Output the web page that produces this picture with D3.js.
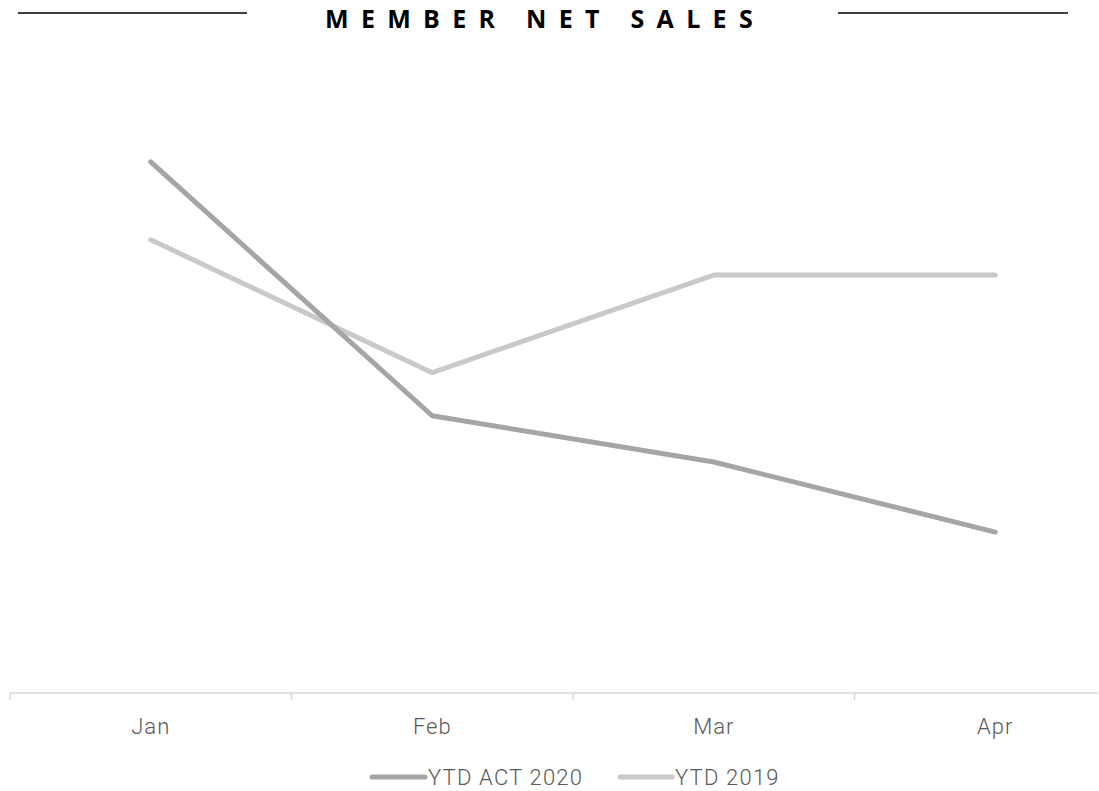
<!DOCTYPE html>
<html><head><meta charset="utf-8">
<script src="https://cdn.jsdelivr.net/npm/d3@7"></script>
<style>body{margin:0;background:#fff;} svg{display:block;}</style>
</head><body>
<svg id="c" width="1099" height="791"></svg>
<script>
const categories = ["Jan","Feb","Mar","Apr"];
const seriesNames = ["YTD ACT 2020","YTD 2019"];
const act2020 = [102.3, 53.4, 44.5, 31.0];
const ytd2019 = [87.3, 61.7, 80.5, 80.5];
const colors = ["#a5a5a5","#c9c9c9"];

const svg = d3.select("#c");
const W = 1099, H = 791;
const m = {left:10, top:70, bottom:98};
const x = d3.scaleBand().domain(categories).range([m.left, 1136]);
const y = d3.scaleLinear().domain([0,120]).range([H - m.bottom, m.top]);

// title
svg.append("text").attr("x", 545).attr("y", 27.5).attr("text-anchor","middle")
  .attr("font-family","Open Sans").attr("font-weight","bold").attr("font-size",25)
  .attr("letter-spacing","12.3px").attr("fill","#000").text("MEMBER NET SALES");
svg.append("line").attr("x1",18).attr("x2",247).attr("y1",13).attr("y2",13).attr("stroke","#000").attr("stroke-width",1.3);
svg.append("line").attr("x1",838).attr("x2",1068).attr("y1",13).attr("y2",13).attr("stroke","#000").attr("stroke-width",1.3);

// axis
const ax = svg.append("g").attr("transform",`translate(0,${H - m.bottom})`);
ax.append("line").attr("x1",m.left).attr("x2",W - 1).attr("stroke","#d9d9d9").attr("stroke-width",1.5);
const tickXs = categories.map(c => x(c));
ax.selectAll("line.t").data(tickXs).join("line").attr("class","t")
  .attr("x1",d=>d).attr("x2",d=>d).attr("y1",0).attr("y2",7).attr("stroke","#d9d9d9").attr("stroke-width",1.5);
ax.selectAll("text").data(categories).join("text")
  .attr("x",d=>x(d)+x.bandwidth()/2).attr("y",40.5).attr("text-anchor","middle")
  .attr("font-family","Roboto").attr("font-weight",300).attr("font-size",22)
  .attr("letter-spacing","1px").attr("fill","#595959").text(d=>d);

// lines
const line = d3.line().x((d,i)=>x(categories[i])+x.bandwidth()/2).y(d=>y(d));
[[ytd2019,1],[act2020,0]].forEach(([s,idx])=>{
  svg.append("path").attr("d", line(s)).attr("fill","none").attr("stroke",colors[idx])
    .attr("stroke-width",5).attr("stroke-linecap","round").attr("stroke-linejoin","round");
});

// legend
const leg = [{x1:372,x2:425,tx:428},{x1:620,x2:672,tx:675}];
seriesNames.forEach((n,i)=>{
  svg.append("line").attr("x1",leg[i].x1).attr("x2",leg[i].x2).attr("y1",777).attr("y2",777)
    .attr("stroke",colors[i]).attr("stroke-width",5).attr("stroke-linecap","round");
  svg.append("text").attr("x",leg[i].tx).attr("y",785).attr("font-family","Roboto").attr("font-weight",300)
    .attr("font-size",22).attr("letter-spacing","1.2px").attr("fill","#595959").text(n);
});
</script>
</body></html>
